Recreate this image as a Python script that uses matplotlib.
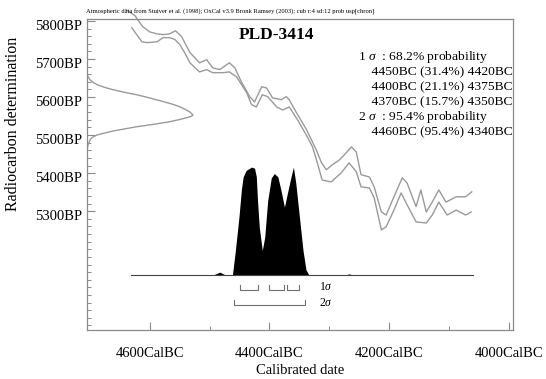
import matplotlib
matplotlib.use("Agg")
import matplotlib.pyplot as plt
from matplotlib.transforms import ScaledTranslation
from matplotlib.ticker import MultipleLocator, FixedLocator

plt.rcParams['font.family'] = ['Liberation Serif', 'DejaVu Serif']
plt.rcParams['mathtext.fontset'] = 'custom'
plt.rcParams['mathtext.rm'] = 'Liberation Serif'
plt.rcParams['mathtext.it'] = 'Liberation Serif:italic'

# ---------------- data ----------------
sample_name = "PLD-3414"
header = ("Atmospheric data from Stuiver et al. (1998); OxCal v3.9 Bronk Ramsey (2003); "
          "cub r:4 sd:12 prob usp[chron]")

# calibration curve envelope (calendar year BC, radiocarbon BP)
cal_upper_date = [4640, 4625, 4612, 4600, 4588, 4577, 4567, 4557, 4547, 4533, 4517, 4505,
                  4495, 4483, 4467, 4458, 4447, 4433, 4425, 4413, 4405, 4395, 4380, 4372,
                  4367, 4355, 4338, 4322, 4313, 4305, 4295, 4283, 4275, 4263, 4255, 4247,
                  4233, 4225, 4213, 4205, 4192, 4178, 4170, 4155, 4147, 4138, 4128, 4117,
                  4105, 4088, 4072, 4062]
cal_upper_bp = [5830, 5814, 5785, 5771, 5766, 5764, 5766, 5774, 5759, 5717, 5690, 5698,
                5677, 5672, 5690, 5677, 5640, 5601, 5587, 5627, 5624, 5598, 5593, 5601,
                5593, 5559, 5514, 5462, 5427, 5409, 5422, 5435, 5448, 5469, 5456, 5396,
                5390, 5364, 5298, 5290, 5338, 5388, 5374, 5312, 5356, 5298, 5324, 5356,
                5324, 5338, 5338, 5351]
cal_lower_date = [4630, 4622, 4613, 4605, 4588, 4578, 4567, 4558, 4550, 4542, 4533, 4517,
                  4505, 4495, 4478, 4467, 4455, 4438, 4430, 4422, 4412, 4403, 4388, 4378,
                  4367, 4353, 4337, 4328, 4320, 4312, 4297, 4280, 4267, 4255, 4247, 4233,
                  4225, 4213, 4205, 4192, 4180, 4170, 4155, 4138, 4128, 4117, 4103, 4088,
                  4072, 4063]
cal_lower_bp = [5782, 5764, 5745, 5743, 5745, 5756, 5756, 5751, 5738, 5717, 5690, 5666,
                5672, 5664, 5664, 5666, 5653, 5611, 5580, 5574, 5606, 5601, 5574, 5566,
                5574, 5540, 5496, 5469, 5427, 5382, 5377, 5401, 5427, 5404, 5364, 5361,
                5335, 5251, 5259, 5303, 5348, 5317, 5272, 5269, 5290, 5324, 5290, 5303,
                5290, 5298]

# radiocarbon measurement distribution (BP, relative probability)
meas_bp = [5662, 5653, 5645, 5638, 5632, 5625, 5619, 5612, 5606, 5597, 5588, 5581,
           5574, 5567, 5561, 5556, 5553, 5550, 5548, 5542, 5535, 5528, 5522, 5516,
           5511, 5505, 5500, 5494, 5488, 5475, 5462]
meas_prob = [0.0, 0.01, 0.03, 0.06, 0.10, 0.17, 0.25, 0.36, 0.47, 0.60, 0.72, 0.81,
             0.88, 0.93, 0.97, 0.99, 1.0, 0.99, 0.97, 0.89, 0.78, 0.62, 0.47, 0.35,
             0.25, 0.16, 0.09, 0.05, 0.03, 0.01, 0.0]

# calibrated date distribution (year BC, relative probability)
post_date = [4632, 4500, 4495, 4483, 4473, 4465, 4462, 4457, 4451, 4447, 4444, 4439,
             4430, 4425, 4422, 4420, 4417, 4412, 4408, 4403, 4397, 4392, 4386, 4381,
             4375, 4370, 4364, 4360, 4356, 4350, 4344, 4339, 4334, 4275, 4267, 4259,
             4060]
post_prob = [0.0, 0.0, 0.0, 0.028, 0.0, 0.0, 0.0, 0.23, 0.54, 0.79, 0.91, 0.97,
             1.0, 0.99, 0.91, 0.69, 0.44, 0.23, 0.35, 0.69, 0.90, 0.94, 0.91, 0.79,
             0.63, 0.76, 0.91, 1.0, 0.85, 0.54, 0.23, 0.05, 0.0, 0.0, 0.012, 0.0,
             0.0]

# probability ranges
sigma1_ranges = [(4450, 4420), (4400, 4375), (4370, 4350)]
sigma2_ranges = [(4460, 4340)]
range_text = ["1 $\\sigma$  : 68.2% probability",
              "    4450BC (31.4%) 4420BC",
              "    4400BC (21.1%) 4375BC",
              "    4370BC (15.7%) 4350BC",
              "2 $\\sigma$  : 95.4% probability",
              "    4460BC (95.4%) 4340BC"]

x_major = [4600, 4400, 4200, 4000]
x_labels = ["4600CalBC", "4400CalBC", "4200CalBC", "4000CalBC"]
y_major = [5300, 5400, 5500, 5600, 5700, 5800]
y_labels = ["5300BP", "5400BP", "5500BP", "5600BP", "5700BP", "5800BP"]

# ---------------- style constants ----------------
XLIM = (4705, 3993)
YLIM = (4988, 5805)
GAUSS_AMP = 177      # years of horizontal extent for measurement curve
POST_BASE = 5132     # BP level of posterior baseline
POST_AMP = 284       # BP height of posterior
GREY = '#9a9a9a'
AX_GREY = '#8a8a8a'

fig = plt.figure(figsize=(5.46, 3.79), dpi=100)
ax = fig.add_axes([87/546, 1-330/379, (513-87)/546, (330-19)/379])
ax.set_xlim(*XLIM)
ax.set_ylim(*YLIM)

# calibration curve
ax.plot(cal_upper_date, cal_upper_bp, color=GREY, lw=1.0, clip_on=False)
ax.plot(cal_lower_date, cal_lower_bp, color=GREY, lw=1.0, clip_on=False)

# measurement distribution on y axis
ax.plot([XLIM[0] - p * GAUSS_AMP for p in meas_prob], meas_bp, color=GREY, lw=1.0)

# calibrated distribution
post_y = [POST_BASE + p * POST_AMP for p in post_prob]
ax.fill_between(post_date, POST_BASE, post_y, color='black', lw=0)
ax.plot([post_date[0], post_date[-1]], [POST_BASE, POST_BASE], color='#444444', lw=0.8)

# range brackets
def bracket(a, b, y, h=13):
    ax.plot([a, a, b, b], [y + h, y, y, y + h], color='#707070', lw=0.8)

for a, b in sigma1_ranges:
    bracket(a, b, 5093)
for a, b in sigma2_ranges:
    bracket(a, b, 5054)
ax.text(4318, 5100, "1$\\sigma$", fontsize=8.5, va='center', ha='left')
ax.text(4318, 5058, "2$\\sigma$", fontsize=8.5, va='center', ha='left')

# axis styling
for s in ax.spines.values():
    s.set_color(AX_GREY)
    s.set_linewidth(0.9)
ax.xaxis.set_major_locator(FixedLocator(x_major))
ax.set_xticklabels(x_labels)
ax.xaxis.set_minor_locator(FixedLocator([4500, 4300, 4100]))
ax.yaxis.set_major_locator(FixedLocator(y_major))
ax.set_yticklabels(y_labels)
ax.yaxis.set_minor_locator(MultipleLocator(20))
ax.tick_params(axis='both', which='major', direction='in', length=6, width=0.8,
               color=AX_GREY, labelsize=10.5)
ax.tick_params(axis='both', which='minor', direction='in', length=2.8, width=0.7,
               color=AX_GREY)
ax.tick_params(axis='x', which='major', pad=12)
ax.tick_params(axis='y', which='major', pad=3.5)
off = ScaledTranslation(0, -4/100, fig.dpi_scale_trans)
for lab in ax.get_yticklabels():
    lab.set_transform(lab.get_transform() + off)

fig.text(300/546, 1-370/379, "Calibrated date", fontsize=10.5, ha='center', va='center')
fig.text(13/546, 1-124/379, "Radiocarbon determination", rotation=90,
         fontsize=11.5, ha='center', va='center')

# title and header
fig.text(276/546, 1-35/379, sample_name, fontsize=12.5, fontweight='bold',
         ha='center', va='center')
fig.text(86/546, 1-12/379, header, fontsize=4.7, ha='left', va='center')

# range text
ys = [57, 72, 87, 102, 117, 132]
for t, yy in zip(range_text, ys):
    fig.text(358/546, 1-yy/379, t, fontsize=9.7, ha='left', va='center')

fig.savefig("out.png", dpi=100)
